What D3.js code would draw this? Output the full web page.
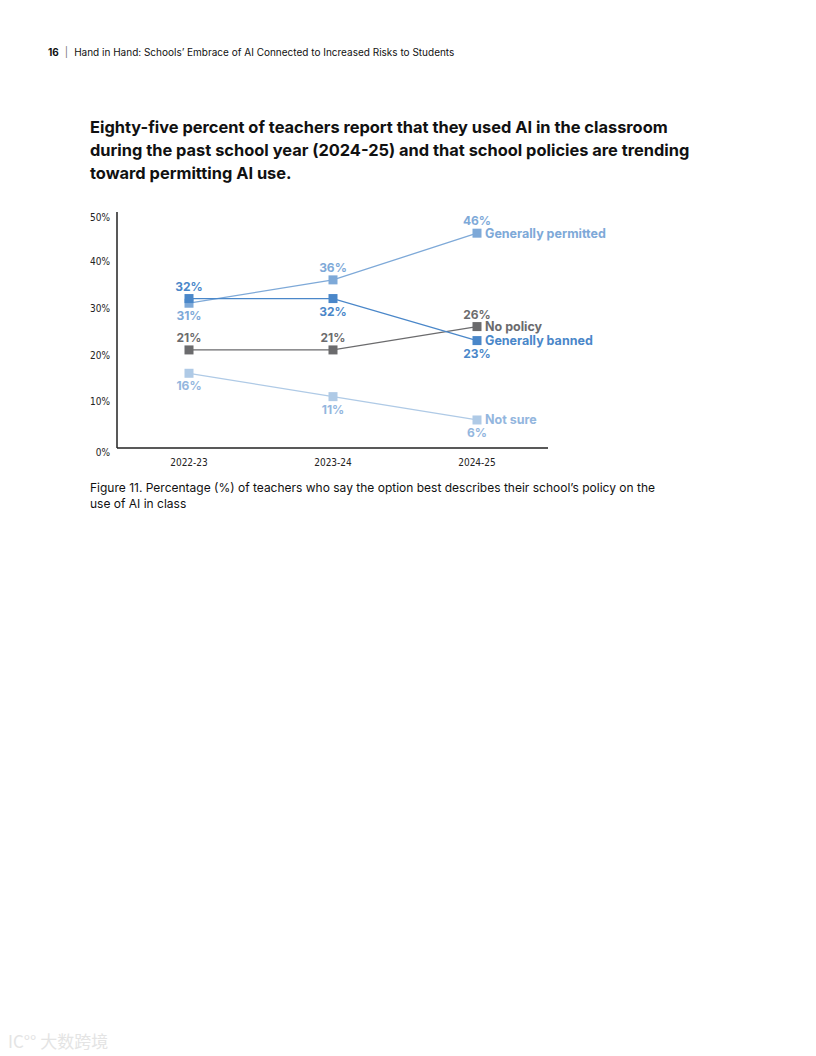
<!DOCTYPE html>
<html lang="en">
<head>
    <meta charset="UTF-8">
    <title>School AI policy trend</title>
    <script src="https://d3js.org/d3.v7.min.js"></script>
    <style>
        body {
            margin: 0;
            background: #fff;
            font-family: Inter, "Noto Sans", Arial, sans-serif;
        }
        svg { display: block; }
    </style>
</head>
<body>
    <div id="chart"></div>

    <script>
        // data
        const years = ["2022-23", "2023-24", "2024-25"];
        const seriesNames = ["Generally permitted", "Generally banned", "No policy", "Not sure"];
        const permitted = [31, 36, 46];
        const banned = [32, 32, 23];
        const noPolicy = [21, 21, 26];
        const notSure = [16, 11, 6];
        const yTicks = [0, 10, 20, 30, 40, 50];

        // where each value label sits: above (-1) or below (+1) its point
        const labelSide = {
            "Generally permitted": [1, -1, -1],
            "Generally banned": [-1, 1, 1],
            "No policy": [-1, -1, -1],
            "Not sure": [1, 1, 1]
        };
        const colors = {
            "Generally permitted": "#7ea9d8",
            "Generally banned": "#4a87c9",
            "No policy": "#6b6b6d",
            "Not sure": "#afcae6"
        };
        const textColors = {
            "Generally permitted": "#7ea9d8",
            "Generally banned": "#4a87c9",
            "No policy": "#6b6b6d",
            "Not sure": "#93b6de"
        };

        const series = [
            { name: seriesNames[0], values: permitted },
            { name: seriesNames[1], values: banned },
            { name: seriesNames[2], values: noPolicy },
            { name: seriesNames[3], values: notSure }
        ];

        const width = 816, height = 1056;
        const svg = d3.select("#chart").append("svg")
            .attr("width", width)
            .attr("height", height);

        // page header
        const header = svg.append("text").attr("x", 48).attr("y", 56)
            .attr("font-size", 10).attr("fill", "#111");
        header.append("tspan").attr("font-weight", 700).text("16");
        header.append("tspan").attr("dx", 6).attr("fill", "#777").text("|");
        header.append("tspan").attr("dx", 6).text("Hand in Hand: Schools\u2019 Embrace of AI Connected to Increased Risks to Students");

        // title
        const titleLines = [
            "Eighty-five percent of teachers report that they used AI in the classroom",
            "during the past school year (2024-25) and that school policies are trending",
            "toward permitting AI use."
        ];
        svg.append("g").selectAll("text")
            .data(titleLines)
            .join("text")
            .attr("x", 90)
            .attr("y", (d, i) => 133 + i * 23)
            .attr("font-size", 16.4)
            .attr("font-weight", 700)
            .attr("fill", "#111")
            .text(d => d);

        const x = d3.scalePoint().domain(years).range([189, 477]);
        const y = d3.scaleLinear().domain([0, 50]).range([448, 214.5]);

        const narrow = "'DejaVu Sans Condensed', 'Liberation Sans Narrow', sans-serif";

        // axes
        svg.append("line").attr("x1", 117).attr("x2", 117).attr("y1", 212).attr("y2", 448)
            .attr("stroke", "#222").attr("stroke-width", 1.5);
        svg.append("line").attr("x1", 117).attr("x2", 548).attr("y1", 448).attr("y2", 448)
            .attr("stroke", "#222").attr("stroke-width", 1.5);

        svg.append("g").selectAll("text")
            .data(yTicks)
            .join("text")
            .attr("x", 110)
            .attr("y", d => y(d) + 4 + (d === 0 ? 4 : 0) + (d === 50 ? 2 : 0))
            .attr("text-anchor", "end")
            .attr("font-family", narrow)
            .attr("font-stretch", "condensed")
            .attr("font-size", 10)
            .attr("fill", "#222")
            .text(d => d + "%");

        svg.append("g").selectAll("text")
            .data(years)
            .join("text")
            .attr("x", d => x(d))
            .attr("y", 466)
            .attr("text-anchor", "middle")
            .attr("font-family", narrow)
            .attr("font-stretch", "condensed")
            .attr("font-size", 10)
            .attr("fill", "#222")
            .text(d => d);

        const line = d3.line()
            .x((d, i) => x(years[i]))
            .y(d => y(d));

        // draw from back to front so the darker lines stay on top
        const order = [series[3], series[0], series[2], series[1]];
        const g = svg.selectAll(".series")
            .data(order)
            .join("g")
            .attr("class", "series");

        g.append("path")
            .attr("d", d => line(d.values))
            .attr("fill", "none")
            .attr("stroke", d => colors[d.name])
            .attr("stroke-width", 1.3);

        g.selectAll("rect")
            .data(d => d.values.map((v, i) => ({ v, i, name: d.name })))
            .join("rect")
            .attr("x", d => x(years[d.i]) - 4.5)
            .attr("y", d => y(d.v) - 4.5)
            .attr("width", 9)
            .attr("height", 9)
            .attr("fill", d => colors[d.name]);

        g.selectAll("text.val")
            .data(d => d.values.map((v, i) => ({ v, i, name: d.name })))
            .join("text")
            .attr("class", "val")
            .attr("x", d => x(years[d.i]))
            .attr("y", d => y(d.v) + (labelSide[d.name][d.i] < 0 ? -8 : 17))
            .attr("text-anchor", "middle")
            .attr("font-size", 12)
            .attr("font-weight", 700)
            .attr("fill", d => textColors[d.name])
            .text(d => d.v + "%");

        // series names next to the last point
        g.append("text")
            .attr("x", x(years[2]) + 8)
            .attr("y", d => y(d.values[2]) + 4.5)
            .attr("font-size", 12.5)
            .attr("font-weight", 700)
            .attr("fill", d => textColors[d.name])
            .text(d => d.name);

        // caption
        const caption = [
            "Figure 11. Percentage (%) of teachers who say the option best describes their school\u2019s policy on the",
            "use of AI in class"
        ];
        svg.append("g").selectAll("text")
            .data(caption)
            .join("text")
            .attr("x", 90)
            .attr("y", (d, i) => 492 + i * 16)
            .attr("font-size", 12)
            .attr("fill", "#111")
            .text(d => d);

        // faint watermark
        svg.append("text")
            .attr("x", 8).attr("y", 1048)
            .attr("font-family", "'Noto Sans CJK SC', sans-serif")
            .attr("font-size", 17)
            .attr("fill", "#e4e4e4")
            .text("IC\u00b0\u00b0 大数跨境");
    </script>
</body>
</html>
